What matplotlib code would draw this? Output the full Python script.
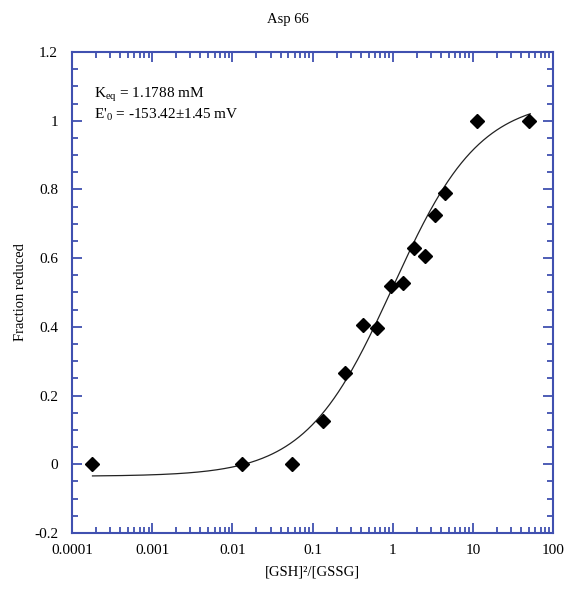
import numpy as np
import matplotlib
matplotlib.use("Agg")
import matplotlib.pyplot as plt
from matplotlib.ticker import LogLocator, MultipleLocator, FixedLocator, FuncFormatter

plt.rcParams['font.family'] = ['Liberation Serif', 'DejaVu Serif']
plt.rcParams['mathtext.fontset'] = 'custom'
plt.rcParams['mathtext.rm'] = 'Liberation Serif'
plt.rcParams['mathtext.it'] = 'Liberation Serif:italic'

# measured points
ratio = [0.00018, 0.0132, 0.0555, 0.135, 0.254, 0.426, 0.643, 0.953, 1.36,
         1.85, 2.51, 3.37, 4.50, 11.4, 50.6]
frac_red = [0.0, 0.0, 0.0, 0.127, 0.265, 0.405, 0.397, 0.519, 0.528,
            0.630, 0.606, 0.725, 0.789, 1.0, 1.0]
x_ticks = [0.0001, 0.001, 0.01, 0.1, 1, 10, 100]

# fitted curve parameters (offset, amplitude, midpoint, slope)
fit_a, fit_b, fit_k, fit_n = -0.035, 1.10, 1.0, 0.8

blue = '#4050b0'

fig = plt.figure(figsize=(5.68, 5.89), dpi=100)
ax = fig.add_axes([0.1268, 0.0951, 0.8468, 0.8166])

xs = np.logspace(np.log10(0.00018), np.log10(52), 300)
ys = fit_a + fit_b * xs**fit_n / (fit_k**fit_n + xs**fit_n)
ax.plot(xs, ys, color='#222222', lw=0.9)
ax.plot(ratio, frac_red, 'D', color='black', markersize=7)

ax.set_xscale('log')
ax.set_xlim(0.0001, 100)
ax.set_ylim(-0.2, 1.2)
ax.xaxis.set_major_locator(FixedLocator(x_ticks))
ax.xaxis.set_minor_locator(LogLocator(base=10, subs=np.arange(2, 10), numticks=10))
ax.xaxis.set_major_formatter(FuncFormatter(lambda v, p: '%g' % v))
ax.yaxis.set_major_locator(MultipleLocator(0.2))
ax.yaxis.set_minor_locator(MultipleLocator(0.05))
ax.yaxis.set_major_formatter(FuncFormatter(lambda v, p: '%g' % round(v, 2)))

for s in ax.spines.values():
    s.set_color(blue)
    s.set_linewidth(1.5)
ax.tick_params(which='both', direction='in', top=True, right=True, color=blue,
               labelsize=11)
ax.tick_params(which='major', length=7, width=1.3)
ax.tick_params(which='minor', length=4.5, width=1.3)
ax.tick_params(axis='y', pad=10)
ax.tick_params(axis='x', pad=8)

ax.set_xlabel('[GSH]\u00b2/[GSSG]', fontsize=10.5, labelpad=6)
ax.set_ylabel('Fraction reduced', fontsize=10.5)
ax.yaxis.set_label_coords(-0.094, 0.5)
fig.text(288 / 568, 1 - 20 / 589, 'Asp 66', fontsize=10.5, ha='center', va='center')

ax.text(0.045, 0.91, r'K$_{\mathrm{eq}}$ = 1.1788 mM', transform=ax.transAxes,
        fontsize=11, va='center')
ax.text(0.045, 0.87, "E$'_{0}$ = -153.42\u00b11.45 mV",
        transform=ax.transAxes, fontsize=11, va='center')

fig.savefig('out.png', dpi=100)
